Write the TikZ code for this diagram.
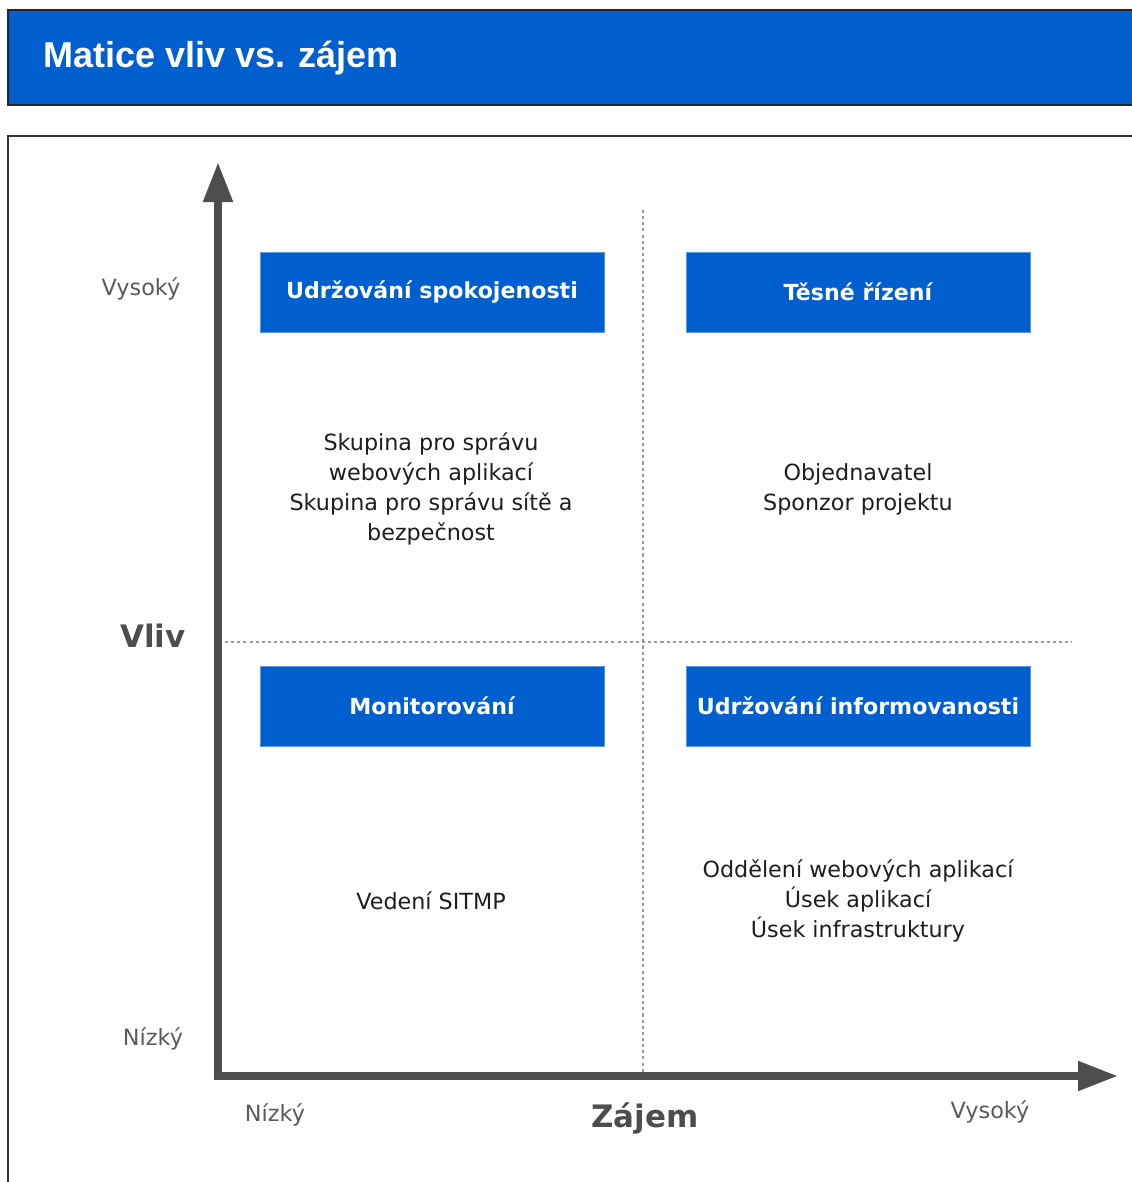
\documentclass[tikz,border=0pt]{standalone}
\usepackage{fontspec}
\setmainfont{DejaVu Sans}
\newfontfamily\titlefont{Liberation Sans}
\usetikzlibrary{arrows.meta}
\definecolor{hdrblue}{RGB}{0,95,207}
\definecolor{boxedge}{RGB}{90,150,230}
\definecolor{axisgray}{RGB}{77,77,77}
\definecolor{labgray}{RGB}{90,90,90}
\definecolor{txt}{RGB}{30,30,30}
\tikzset{
  quadbox/.style={fill=hdrblue, draw=boxedge, line width=0.6pt, minimum width=258pt, minimum height=60pt, inner sep=0pt, text=white, font=\bfseries\fontsize{16.6}{19}\selectfont},
  bodytext/.style={align=center, text=txt, font=\fontsize{16.7}{22.5}\selectfont, inner sep=0pt},
  levellab/.style={text=labgray, font=\fontsize{16.8}{19}\selectfont, inner sep=0pt},
  axislab/.style={text=axisgray, font=\bfseries\fontsize{23.2}{26}\selectfont, inner sep=0pt},
  axisline/.style={draw=axisgray, line width=6pt, line join=miter,
    {Triangle[length=30pt,width=21pt]}-{Triangle[length=30pt,width=21pt]}},
  divider/.style={draw=gray!80, line width=1.4pt, dash pattern=on 2.3pt off 2.3pt}
}
\begin{document}
\begin{tikzpicture}[x=0.75pt,y=-0.75pt]
\useasboundingbox (0,0) rectangle (1132,1182);
% header
\fill[hdrblue] (8,10) rectangle (1140,105);
\draw[black!85, line width=1pt] (1140,10) -- (8,10) -- (8,105) -- (1140,105);
\node[anchor=west, text=white, font=\titlefont\bfseries\fontsize{27}{30}\selectfont, inner sep=0pt] (title) at (43,58) {Matice vliv vs. zájem};
% frame
\draw[black!80, line width=1pt] (1140,136) -- (8,136) -- (8,1190);
% axes
\coordinate (ytop) at (218,162);
\coordinate (origin) at (218,1076);
\coordinate (xend) at (1118,1076);
\draw[axisline] (ytop) -- (origin) -- (xend);
% dividers
\coordinate (vtop) at (643,210);
\coordinate (vbot) at (643,1072);
\coordinate (hleft) at (225,642);
\coordinate (hright) at (1072,642);
\draw[divider] (vtop) -- (vbot);
\draw[divider] (hleft) -- (hright);
% boxes
\node[quadbox] (b1) at (432,292) {Udržování spokojenosti};
\node[quadbox] (b2) at (858,292) {Těsné řízení};
\node[quadbox] (b3) at (432,706) {Monitorování};
\node[quadbox] (b4) at (858,706) {Udržování informovanosti};
% texts
\node[bodytext] (t1) at (431,489) {Skupina pro správu\\webových aplikací\\Skupina pro správu sítě a\\bezpečnost};
\node[bodytext] (t2) at (858,489) {Objednavatel\\Sponzor projektu};
\node[bodytext] (t3) at (431,901) {Vedení SITMP};
\node[bodytext] (t4) at (858,901) {Oddělení webových aplikací\\Úsek aplikací\\Úsek infrastruktury};
% axis labels
\node[levellab] (yhigh) at (141,289) {Vysoký};
\node[levellab] (ylow) at (153,1039) {Nízký};
\node[axislab] (ylab) at (153,636) {Vliv};
\node[levellab] (xlow) at (275,1115) {Nízký};
\node[levellab] (xhigh) at (990,1112) {Vysoký};
\node[axislab] (xlab) at (645,1118) {Zájem};
\end{tikzpicture}
\end{document}
